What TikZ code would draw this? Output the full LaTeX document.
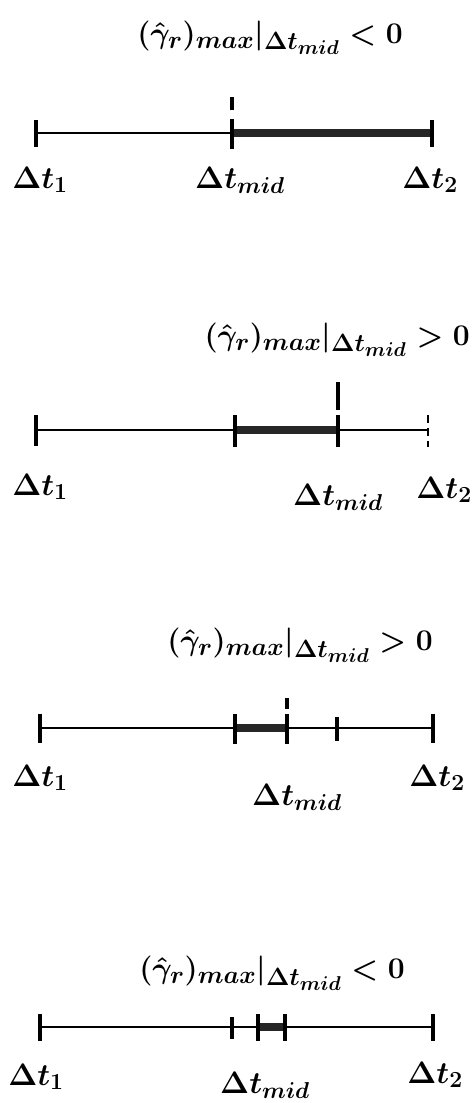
\RequirePackage{fix-cm}
\documentclass[tikz,border=0pt]{standalone}
\usepackage{amsmath}
\DeclareMathSizes{31}{31}{23}{18}
\DeclareMathSizes{30}{30}{25}{20}
\begin{document}
\begin{tikzpicture}[x=1pt,y=-1pt,
  thin line/.style={line width=2.8pt},
  bar/.style={line width=8pt,color=black!85},
  tick/.style={line width=3.6pt},
  lab/.style={font=\fontsize{31}{34}\selectfont\boldmath, inner sep=0pt},
  ttl/.style={font=\fontsize{30}{33}\selectfont\boldmath, inner sep=0pt}]
\useasboundingbox (0,0) rectangle (473,1103);
% ---------- panel 1
\coordinate (a1) at (36,133);
\coordinate (m1) at (232,133);
\coordinate (b1) at (432,133);
\draw[thin line] (a1) -- (m1);
\draw[bar] (m1) -- (b1);
\draw[tick] ([yshift=13]a1) -- ([yshift=-14]a1);
\draw[tick] ([yshift=-16]m1) -- ([yshift=14]m1);
\draw[tick] ([yshift=23]m1) -- ([yshift=36]m1);
\draw[tick] ([yshift=13]b1) -- ([yshift=-14]b1);
\node[lab] (l1a) at (40,180) {$\Delta t_1$};
\node[lab] (l1m) at (240,180) {$\Delta t_{mid}$};
\node[lab] (l1b) at (430,180) {$\Delta t_2$};
\node[ttl] (t1) at (270,38) {$(\hat{\gamma}_r)_{max}|_{\Delta t_{mid}} < 0$};
% ---------- panel 2
\coordinate (a2) at (36,430);
\coordinate (c2) at (235,430);
\coordinate (m2) at (338,430);
\coordinate (b2) at (428,430);
\draw[thin line] (a2) -- (c2);
\draw[bar] (c2) -- (m2);
\draw[thin line] (m2) -- (b2);
\draw[tick] ([yshift=15]a2) -- ([yshift=-16]a2);
\draw[tick] ([yshift=15]c2) -- ([yshift=-17]c2);
\draw[tick] ([yshift=-17]m2) -- ([yshift=15]m2);
\draw[tick] ([yshift=20]m2) -- ([yshift=48]m2);
\draw[line width=2.6pt,dash pattern=on 8pt off 5pt] ([yshift=15]b2) -- ([yshift=-17]b2);
\node[lab] (l2a) at (40,487) {$\Delta t_1$};
\node[lab] (l2m) at (338,497) {$\Delta t_{mid}$};
\node[lab] (l2b) at (444,490) {$\Delta t_2$};
\node[ttl, anchor=east] (t2) at (470,340) {$(\hat{\gamma}_r)_{max}|_{\Delta t_{mid}} > 0$};
% ---------- panel 3
\coordinate (a3) at (40,728);
\coordinate (c3) at (235,728);
\coordinate (m3) at (287,728);
\coordinate (d3) at (337,728);
\coordinate (b3) at (433,728);
\draw[thin line] (a3) -- (c3);
\draw[bar] (c3) -- (m3);
\draw[thin line] (m3) -- (b3);
\draw[tick] ([yshift=14]a3) -- ([yshift=-15]a3);
\draw[tick] ([yshift=14]c3) -- ([yshift=-16]c3);
\draw[tick] ([yshift=-16]m3) -- ([yshift=14]m3);
\draw[tick] ([yshift=19]m3) -- ([yshift=30]m3);
\draw[tick] ([yshift=11]d3) -- ([yshift=-13]d3);
\draw[tick] ([yshift=14]b3) -- ([yshift=-15]b3);
\node[lab] (l3a) at (40,778) {$\Delta t_1$};
\node[lab] (l3m) at (297,797) {$\Delta t_{mid}$};
\node[lab] (l3b) at (437,778) {$\Delta t_2$};
\node[ttl] (t3) at (300,645) {$(\hat{\gamma}_r)_{max}|_{\Delta t_{mid}} > 0$};
% ---------- panel 4
\coordinate (a4) at (40,1027);
\coordinate (c4) at (232,1027);
\coordinate (e4) at (258,1027);
\coordinate (m4) at (285,1027);
\coordinate (b4) at (433,1027);
\draw[thin line] (a4) -- (e4);
\draw[bar] (e4) -- (m4);
\draw[thin line] (m4) -- (b4);
\draw[tick] ([yshift=13]a4) -- ([yshift=-14]a4);
\draw[tick] ([yshift=10]c4) -- ([yshift=-12]c4);
\draw[tick] ([yshift=13]e4) -- ([yshift=-14]e4);
\draw[tick] ([yshift=13]m4) -- ([yshift=-14]m4);
\draw[tick] ([yshift=13]b4) -- ([yshift=-14]b4);
\node[lab] (l4a) at (36,1077) {$\Delta t_1$};
\node[lab] (l4m) at (265,1085) {$\Delta t_{mid}$};
\node[lab] (l4b) at (435,1075) {$\Delta t_2$};
\node[ttl] (t4) at (272,973) {$(\hat{\gamma}_r)_{max}|_{\Delta t_{mid}} < 0$};
\end{tikzpicture}
\end{document}
